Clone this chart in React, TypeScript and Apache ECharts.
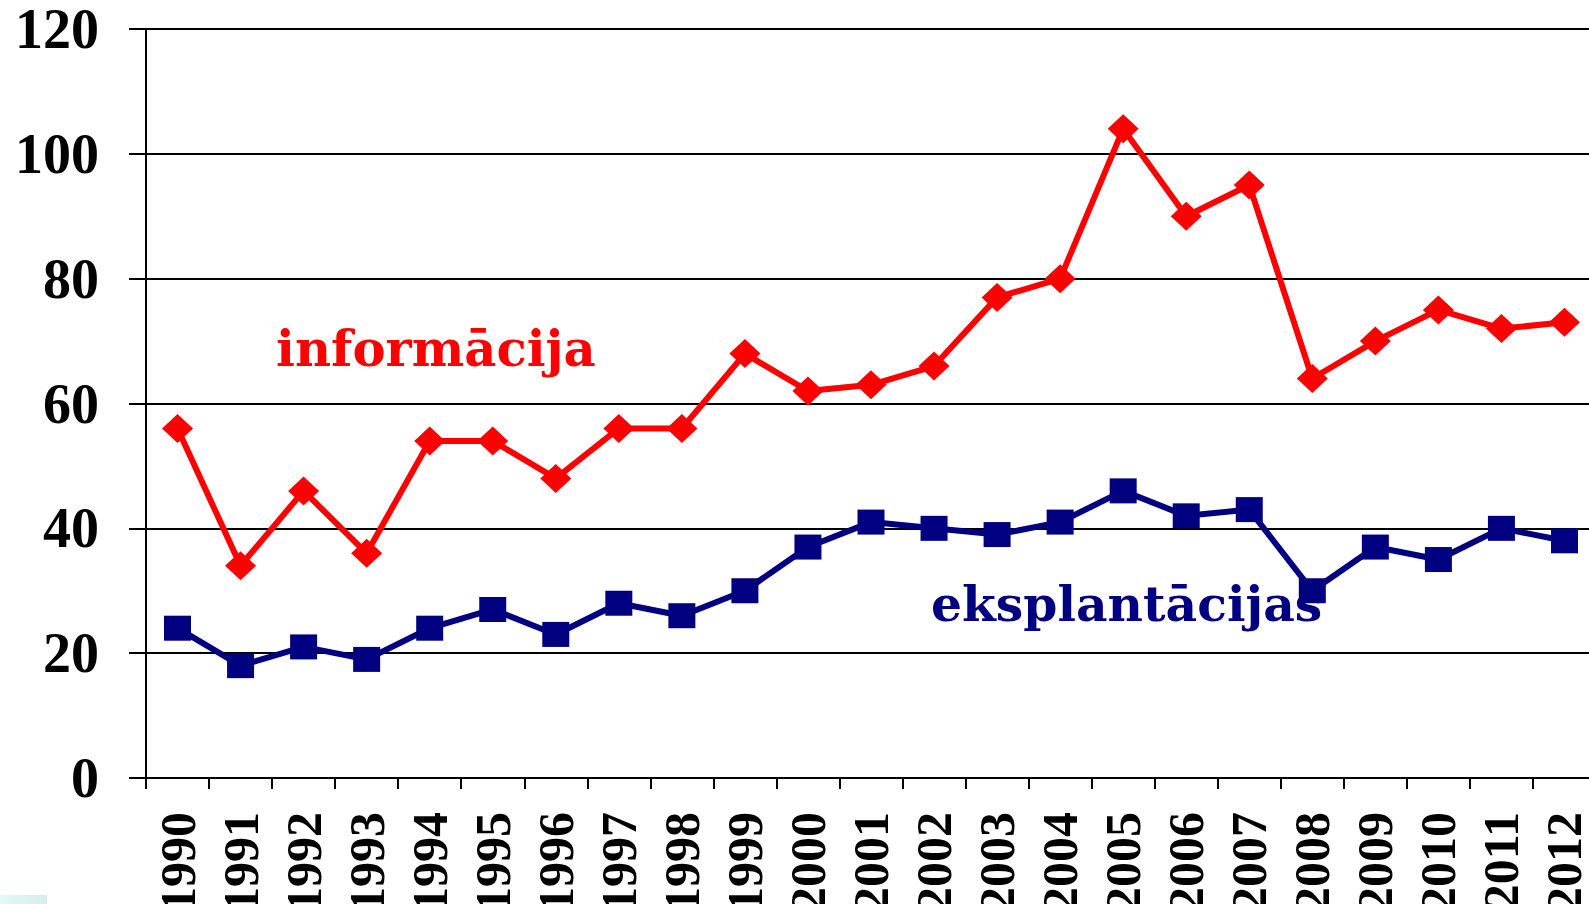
import React, { useEffect, useRef } from "react";
import * as echarts from "echarts";

const years = ["1990","1991","1992","1993","1994","1995","1996","1997","1998","1999","2000","2001","2002","2003","2004","2005","2006","2007","2008","2009","2010","2011","2012"];
const informacija = [56, 34, 46, 36, 54, 54, 48, 56, 56, 68, 62, 63, 66, 77, 80, 104, 90, 95, 64, 70, 75, 72, 73];
const eksplantacijas = [24, 18, 21, 19, 24, 27, 23, 28, 26, 30, 37, 41, 40, 39, 41, 46, 42, 43, 30, 37, 35, 40, 38];
const yTicks = { min: 0, max: 120, interval: 20 };

const SERIF = "'Liberation Serif', 'Times New Roman', serif";

export default function App() {
  const ref = useRef<HTMLDivElement>(null);
  useEffect(() => {
    if (!ref.current) return;
    const chart = echarts.init(ref.current, null, { renderer: "svg" });
    chart.setOption({
      animation: false,
      backgroundColor: "#ffffff",
      grid: {
        left: 146,
        top: 29,
        width: 1450,
        height: 749,
        containLabel: false,
        outerBoundsMode: "none",
      },
      xAxis: {
        type: "category",
        data: years,
        boundaryGap: true,
        axisLine: { lineStyle: { color: "#000", width: 2 } },
        axisTick: { show: true, length: 11, lineStyle: { color: "#000", width: 2 } },
        axisLabel: {
          rotate: 90,
          margin: 34,
          fontSize: 50,
          fontWeight: "bold",
          fontFamily: SERIF,
          color: "#000",
          interval: 0,
        },
        splitLine: { show: false },
      },
      yAxis: {
        type: "value",
        min: yTicks.min,
        max: yTicks.max,
        interval: yTicks.interval,
        axisLine: { show: true, lineStyle: { color: "#000", width: 2 } },
        axisTick: { show: true, length: 17, lineStyle: { color: "#000", width: 2 } },
        axisLabel: {
          margin: 47,
          fontSize: 56,
          lineHeight: 40,
          fontWeight: "bold",
          fontFamily: SERIF,
          color: "#000",
        },
        splitLine: { show: true, lineStyle: { color: "#000", width: 2 } },
      },
      series: [
        {
          name: "eksplantācijas",
          type: "line",
          data: eksplantacijas,
          symbol: "rect",
          symbolSize: [27, 25],
          lineStyle: { color: "#000080", width: 6 },
          itemStyle: { color: "#000080" },
          z: 3,
        },
        {
          name: "informācija",
          type: "line",
          data: informacija,
          symbol: "diamond",
          symbolSize: [31, 29],
          lineStyle: { color: "#ff0000", width: 6 },
          itemStyle: { color: "#ff0000" },
          z: 4,
        },
      ],
      graphic: [
        {
          type: "text",
          left: 276,
          top: 323,
          z: 10,
          style: {
            text: "informācija",
            fill: "#ff0000",
            font: "bold 49.7px 'DejaVu Serif'",
          },
        },
        {
          type: "text",
          left: 931,
          top: 579,
          z: 10,
          style: {
            text: "eksplantācijas",
            fill: "#000080",
            font: "bold 48.8px 'DejaVu Serif'",
          },
        },
        {
          type: "rect",
          left: 0,
          top: 895,
          shape: { width: 47, height: 9 },
          style: {
            fill: new echarts.graphic.LinearGradient(0, 0, 1, 0, [
              { offset: 0, color: "#e2f8f5" },
              { offset: 1, color: "#d8eeea" },
            ]),
          },
        },
      ],
    });
    return () => chart.dispose();
  }, []);
  return (
    <div
      ref={ref}
      style={{ position: "fixed", left: 0, top: 0, width: 1589, height: 904 }}
    />
  );
}
